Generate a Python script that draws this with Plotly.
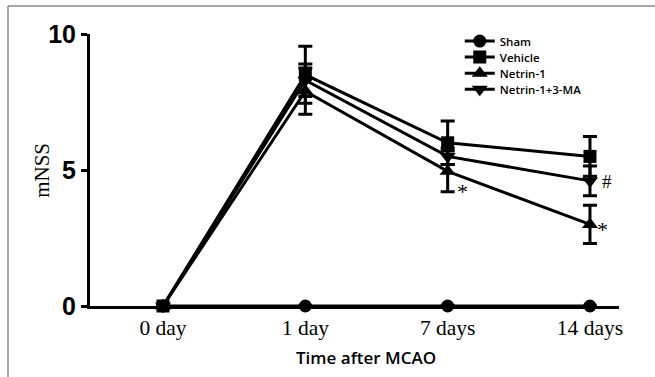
import plotly.graph_objects as go

days = ["0 day", "1 day", "7 days", "14 days"]
sham = [0, 0, 0, 0]
sham_err = [0, 0, 0, 0]
vehicle = [0, 8.5, 6.0, 5.5]
vehicle_err = [0, 1.05, 0.8, 0.73]
netrin = [0, 7.9, 4.95, 3.0]
netrin_err = [0, 0.85, 0.75, 0.7]
netrin_ma = [0, 8.3, 5.5, 4.6]
netrin_ma_err = [0, 0.6, 0.3, 0.55]

# (name, values, errors, marker, size, legend id, legend y)
series = [
    ("Sham", sham, sham_err, "circle", 13, "legend", 0.974),
    ("Netrin-1", netrin, netrin_err, "triangle-up", 14, "legend3", 0.856),
    ("Netrin-1+3-MA", netrin_ma, netrin_ma_err, "triangle-down", 14, "legend4", 0.797),
    ("Vehicle", vehicle, vehicle_err, "square", 13, "legend2", 0.915),
]

fig = go.Figure()
legend_layout = {}
for name, vals, errs, sym, size, leg, ly in series:
    fig.add_trace(go.Scatter(
        x=days, y=vals, name=name, mode="lines+markers",
        line=dict(color="black", width=3),
        marker=dict(symbol=sym, size=size, color="black"),
        error_y=dict(type="data", array=errs, visible=True, color="black",
                     thickness=3, width=7),
        cliponaxis=False, legend=leg,
    ))
    legend_layout[leg] = dict(
        x=0.699, y=ly, xanchor="left", yanchor="middle",
        bgcolor="rgba(0,0,0,0)", borderwidth=0,
        font=dict(family="Open Sans", size=11.5, color="black", weight=600),
        itemwidth=30,
    )

serif = "Liberation Serif"
fig.add_annotation(x=days[2], y=netrin[2], text="*", showarrow=False,
                   xshift=15, yshift=-20, font=dict(family=serif, size=22, color="black"))
fig.add_annotation(x=days[3], y=netrin_ma[3], text="#", showarrow=False,
                   xshift=17, yshift=-1, font=dict(family=serif, size=19, color="black"))
fig.add_annotation(x=days[3], y=netrin[3], text="*", showarrow=False,
                   xshift=13, yshift=-5, font=dict(family=serif, size=22, color="black"))

# x-axis title (slightly right of the plot centre, as in the reference)
fig.add_annotation(xref="paper", yref="paper", x=0.522, y=-0.19,
                   xanchor="center", yanchor="middle", showarrow=False,
                   text="Time after MCAO",
                   font=dict(family="Open Sans", size=17, color="black", weight=600))
# y-axis title
fig.add_annotation(xref="paper", yref="paper", x=-0.091, y=0.5,
                   xanchor="center", yanchor="middle", showarrow=False,
                   text="mNSS", textangle=-90,
                   font=dict(family=serif, size=21, color="black"))

# outer gray frame (top & left)
fig.add_shape(type="line", xref="paper", yref="paper", x0=-0.155, x1=1.07,
              y0=1.103, y1=1.103, line=dict(color="#888888", width=1.5))
fig.add_shape(type="line", xref="paper", yref="paper", x0=-0.155, x1=-0.155,
              y0=1.103, y1=-0.27, line=dict(color="#888888", width=1.5))

fig.update_layout(
    width=655, height=377,
    margin=dict(l=90, r=36, t=34, b=71),
    paper_bgcolor="white", plot_bgcolor="white",
    showlegend=True,
    **legend_layout,
    xaxis=dict(
        type="category", range=[-0.513, 3.204],
        showline=True, linecolor="black", linewidth=3,
        showgrid=False, zeroline=False, ticks="",
        tickfont=dict(family=serif, size=21.5, color="black"),
    ),
    yaxis=dict(
        range=[0, 10], tickvals=[0, 5, 10],
        showline=True, linecolor="black", linewidth=3,
        showgrid=False, zeroline=False,
        ticks="outside", ticklen=6, tickwidth=3, tickcolor="black",
        tickfont=dict(family="Liberation Sans", size=25, color="black", weight="bold"),
    ),
)

fig.write_html("out.html", config={"displayModeBar": False},
               post_script="document.body.style.margin='0px';document.body.style.overflow='hidden';")
